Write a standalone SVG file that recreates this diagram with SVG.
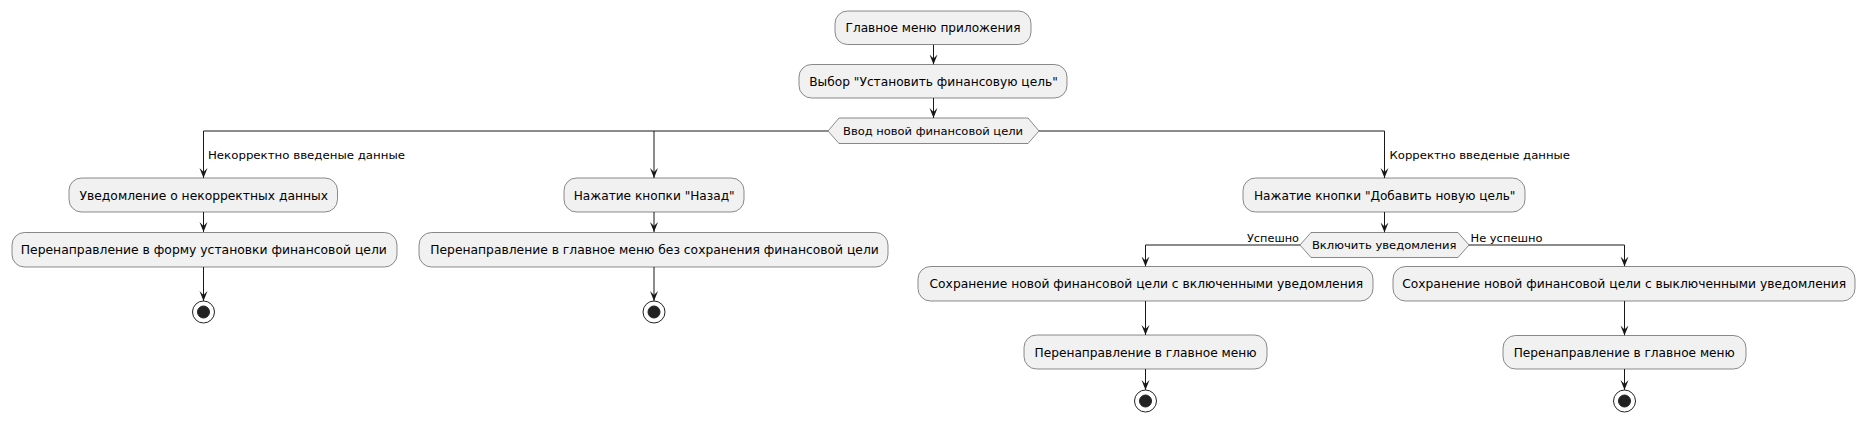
<svg xmlns="http://www.w3.org/2000/svg" width="1865" height="421" viewBox="0 0 1865 421">
<style>
.box{fill:#F1F1F1;stroke:#181818;stroke-width:0.5}
.dia{fill:#F1F1F1;stroke:#181818;stroke-width:0.5}
.t{font-family:"DejaVu Sans","Liberation Sans",sans-serif;font-size:12px;fill:#000;text-anchor:middle}
.td{font-family:"DejaVu Sans","Liberation Sans",sans-serif;font-size:11px;fill:#000;text-anchor:middle}
.tl{font-family:"DejaVu Sans","Liberation Sans",sans-serif;font-size:11px;fill:#000}
.e{fill:none;stroke:#181818;stroke-width:1}
.eo{fill:none;stroke:#222222;stroke-width:1}
.ei{fill:#222222;stroke:#222222;stroke-width:1}
</style>
<defs>
<marker id="ah" markerUnits="userSpaceOnUse" markerWidth="10" markerHeight="10" viewBox="0 0 10 8" refX="10" refY="4" orient="auto">
<path d="M0,0 L10,4 L0,8 L4,4 Z" fill="#181818"/>
</marker>
</defs>
<g id="connectors">
<line class="e" x1="933.5" y1="44.5" x2="933.5" y2="64.5" marker-end="url(#ah)"/>
<line class="e" x1="933.5" y1="98" x2="933.5" y2="118" marker-end="url(#ah)"/>
<polyline class="e" points="828,131 203.5,131 203.5,178" marker-end="url(#ah)"/>
<polyline class="e" points="654,131 654,178" marker-end="url(#ah)"/>
<polyline class="e" points="1039,131 1384.5,131 1384.5,178" marker-end="url(#ah)"/>
<line class="e" x1="203.5" y1="212" x2="203.5" y2="232" marker-end="url(#ah)"/>
<line class="e" x1="203.5" y1="267" x2="203.5" y2="301" marker-end="url(#ah)"/>
<line class="e" x1="654" y1="212" x2="654" y2="232" marker-end="url(#ah)"/>
<line class="e" x1="654" y1="267" x2="654" y2="301" marker-end="url(#ah)"/>
<line class="e" x1="1384.5" y1="212" x2="1384.5" y2="232.5" marker-end="url(#ah)"/>
<polyline class="e" points="1300,245 1145.5,245 1145.5,266.5" marker-end="url(#ah)"/>
<polyline class="e" points="1469,245 1624.5,245 1624.5,266.5" marker-end="url(#ah)"/>
<line class="e" x1="1145.5" y1="301" x2="1145.5" y2="335" marker-end="url(#ah)"/>
<line class="e" x1="1145.5" y1="369" x2="1145.5" y2="390" marker-end="url(#ah)"/>
<line class="e" x1="1624.5" y1="301" x2="1624.5" y2="335.5" marker-end="url(#ah)"/>
<line class="e" x1="1624.5" y1="369" x2="1624.5" y2="390" marker-end="url(#ah)"/>
<text class="tl" x="208" y="158.5" textLength="197" lengthAdjust="spacingAndGlyphs">Некорректно введеные данные</text>
<text class="tl" x="1389.5" y="158.5" textLength="180.5" lengthAdjust="spacingAndGlyphs">Корректно введеные данные</text>
<text class="tl" x="1247" y="241.5" textLength="52" lengthAdjust="spacingAndGlyphs">Успешно</text>
<text class="tl" x="1470.5" y="241.5" textLength="72" lengthAdjust="spacingAndGlyphs">Не успешно</text>
</g>
<g id="n1"><rect class="box" x="835" y="11" width="196" height="33.5" rx="12.5"/><text class="t" x="933" y="32" textLength="175" lengthAdjust="spacingAndGlyphs">Главное меню приложения</text></g>
<g id="n2"><rect class="box" x="799" y="64.5" width="268" height="33.5" rx="12.5"/><text class="t" x="933.5" y="85.5" textLength="248.5" lengthAdjust="spacingAndGlyphs">Выбор "Установить финансовую цель"</text></g>
<g id="d1"><polygon class="dia" points="828,131 839,118 1028,118 1039,131 1028,143.5 839,143.5"/><text class="td" x="933" y="135" textLength="180" lengthAdjust="spacingAndGlyphs">Ввод новой финансовой цели</text></g>
<g id="n3"><rect class="box" x="69" y="178" width="268.5" height="34" rx="12.5"/><text class="t" x="203.8" y="199.5" textLength="248.5" lengthAdjust="spacingAndGlyphs">Уведомление о некорректных данных</text></g>
<g id="n4"><rect class="box" x="12" y="232.5" width="385" height="34.5" rx="12.5"/><text class="t" x="203.8" y="254" textLength="366" lengthAdjust="spacingAndGlyphs">Перенаправление в форму установки финансовой цели</text></g>
<g id="end1"><circle class="eo" cx="203.5" cy="312" r="11"/><circle class="ei" cx="203.5" cy="312" r="6"/></g>
<g id="n5"><rect class="box" x="564" y="178" width="180" height="34" rx="12.5"/><text class="t" x="654.2" y="199.5" textLength="161" lengthAdjust="spacingAndGlyphs">Нажатие кнопки "Назад"</text></g>
<g id="n6"><rect class="box" x="419" y="232.5" width="469" height="34.5" rx="12.5"/><text class="t" x="654.5" y="254" textLength="448.5" lengthAdjust="spacingAndGlyphs">Перенаправление в главное меню без сохранения финансовой цели</text></g>
<g id="end2"><circle class="eo" cx="654" cy="312" r="11"/><circle class="ei" cx="654" cy="312" r="6"/></g>
<g id="n7"><rect class="box" x="1243" y="178" width="282" height="34" rx="12.5"/><text class="t" x="1384.7" y="199.5" textLength="261.5" lengthAdjust="spacingAndGlyphs">Нажатие кнопки "Добавить новую цель"</text></g>
<g id="d2"><polygon class="dia" points="1300,245 1311,232.5 1458,232.5 1469,245 1458,257.5 1311,257.5"/><text class="td" x="1384.2" y="248.5" textLength="144.5" lengthAdjust="spacingAndGlyphs">Включить уведомления</text></g>
<g id="n8"><rect class="box" x="918" y="266.5" width="455" height="34.5" rx="12.5"/><text class="t" x="1146.3" y="288" textLength="433.5" lengthAdjust="spacingAndGlyphs">Сохранение новой финансовой цели с включенными уведомления</text></g>
<g id="n9"><rect class="box" x="1024" y="335" width="243" height="34" rx="12.5"/><text class="t" x="1145.5" y="356.5" textLength="222" lengthAdjust="spacingAndGlyphs">Перенаправление в главное меню</text></g>
<g id="end3"><circle class="eo" cx="1145.5" cy="401" r="11"/><circle class="ei" cx="1145.5" cy="401" r="6"/></g>
<g id="n10"><rect class="box" x="1393" y="266.5" width="462" height="34.5" rx="12.5"/><text class="t" x="1624.2" y="288" textLength="444" lengthAdjust="spacingAndGlyphs">Сохранение новой финансовой цели с выключенными уведомления</text></g>
<g id="n11"><rect class="box" x="1503" y="335.5" width="243" height="33.5" rx="12.5"/><text class="t" x="1624.2" y="356.5" textLength="221" lengthAdjust="spacingAndGlyphs">Перенаправление в главное меню</text></g>
<g id="end4"><circle class="eo" cx="1624.5" cy="401" r="11"/><circle class="ei" cx="1624.5" cy="401" r="6"/></g>
</svg>
